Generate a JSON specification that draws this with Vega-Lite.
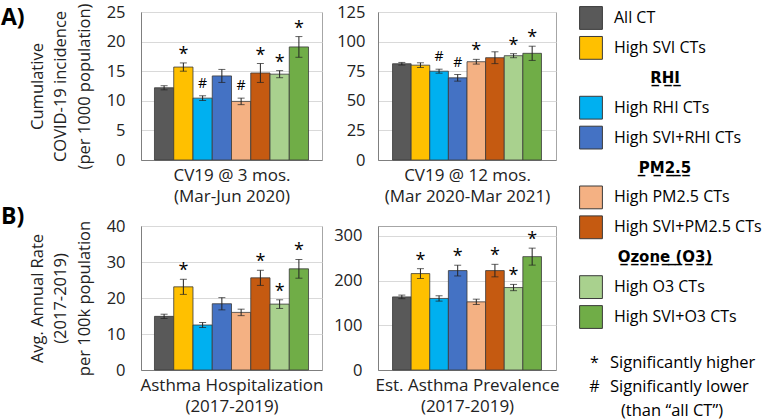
{
  "$schema": "https://vega.github.io/schema/vega-lite/v6.json",
  "padding": {"left": 0, "top": 2, "right": 0, "bottom": 0},
  "background": "white",
  "config": {
    "font": "Open Sans",
    "view": {"stroke": "#a6a6a6", "strokeWidth": 1},
    "axis": {"labelColor": "#222222", "titleColor": "#222222", "titleFontWeight": "normal", "labelFontSize": 16.5, "titleFontSize": 16.5, "gridColor": "#d9d9d9", "domainColor": "#7f7f7f", "ticks": false, "labelOverlap": false, "labelPadding": 16},
    "axisX": {"titleFontSize": 17, "titleLineHeight": 21, "titlePadding": 7.5},
    "axisY": {"titleLineHeight": 23.5, "titlePadding": 14},
    "text": {"color": "#000000"},
    "tick": {"color": "#222222", "thickness": 1, "size": 7, "orient": "horizontal"},
    "rule": {"color": "#222222", "strokeWidth": 1}
  },
  "datasets": {
    "bars": [
      {"panel": "A1", "series": "All CT", "value": 12.2, "lower": 11.85, "upper": 12.55, "sig": ""},
      {"panel": "A1", "series": "High SVI CTs", "value": 15.7, "lower": 15.0, "upper": 16.4, "sig": "*"},
      {"panel": "A1", "series": "High RHI CTs", "value": 10.45, "lower": 10.05, "upper": 10.85, "sig": "#"},
      {"panel": "A1", "series": "High SVI+RHI CTs", "value": 14.2, "lower": 13.1, "upper": 15.3, "sig": ""},
      {"panel": "A1", "series": "High PM2.5 CTs", "value": 9.9, "lower": 9.35, "upper": 10.45, "sig": "#"},
      {"panel": "A1", "series": "High SVI+PM2.5 CTs", "value": 14.7, "lower": 13.1, "upper": 16.3, "sig": "*"},
      {"panel": "A1", "series": "High O3 CTs", "value": 14.5, "lower": 13.9, "upper": 15.1, "sig": "*"},
      {"panel": "A1", "series": "High SVI+O3 CTs", "value": 19.1, "lower": 17.35, "upper": 20.85, "sig": "*"},
      {"panel": "A2", "series": "All CT", "value": 81.3, "lower": 80.2, "upper": 82.4, "sig": ""},
      {"panel": "A2", "series": "High SVI CTs", "value": 80.1, "lower": 78.1, "upper": 82.1, "sig": ""},
      {"panel": "A2", "series": "High RHI CTs", "value": 75.0, "lower": 73.3, "upper": 76.7, "sig": "#"},
      {"panel": "A2", "series": "High SVI+RHI CTs", "value": 69.4, "lower": 66.6, "upper": 72.2, "sig": "#"},
      {"panel": "A2", "series": "High PM2.5 CTs", "value": 83.0, "lower": 81.0, "upper": 85.0, "sig": "*"},
      {"panel": "A2", "series": "High SVI+PM2.5 CTs", "value": 86.4, "lower": 81.4, "upper": 91.4, "sig": ""},
      {"panel": "A2", "series": "High O3 CTs", "value": 88.1, "lower": 86.4, "upper": 89.8, "sig": "*"},
      {"panel": "A2", "series": "High SVI+O3 CTs", "value": 90.1, "lower": 84.1, "upper": 96.1, "sig": "*"},
      {"panel": "B1", "series": "All CT", "value": 14.9, "lower": 14.3, "upper": 15.5, "sig": ""},
      {"panel": "B1", "series": "High SVI CTs", "value": 23.1, "lower": 21.0, "upper": 25.2, "sig": "*"},
      {"panel": "B1", "series": "High RHI CTs", "value": 12.5, "lower": 11.8, "upper": 13.2, "sig": ""},
      {"panel": "B1", "series": "High SVI+RHI CTs", "value": 18.4, "lower": 16.7, "upper": 20.1, "sig": ""},
      {"panel": "B1", "series": "High PM2.5 CTs", "value": 16.0, "lower": 15.1, "upper": 16.9, "sig": ""},
      {"panel": "B1", "series": "High SVI+PM2.5 CTs", "value": 25.6, "lower": 23.5, "upper": 27.7, "sig": "*"},
      {"panel": "B1", "series": "High O3 CTs", "value": 18.3, "lower": 17.1, "upper": 19.5, "sig": "*"},
      {"panel": "B1", "series": "High SVI+O3 CTs", "value": 28.1, "lower": 25.5, "upper": 30.7, "sig": "*"},
      {"panel": "B2", "series": "All CT", "value": 163.5, "lower": 159.5, "upper": 167.5, "sig": ""},
      {"panel": "B2", "series": "High SVI CTs", "value": 215.6, "lower": 204.6, "upper": 226.6, "sig": "*"},
      {"panel": "B2", "series": "High RHI CTs", "value": 160.0, "lower": 154.0, "upper": 166.0, "sig": ""},
      {"panel": "B2", "series": "High SVI+RHI CTs", "value": 222.3, "lower": 210.3, "upper": 234.3, "sig": "*"},
      {"panel": "B2", "series": "High PM2.5 CTs", "value": 152.4, "lower": 146.4, "upper": 158.4, "sig": ""},
      {"panel": "B2", "series": "High SVI+PM2.5 CTs", "value": 222.3, "lower": 208.3, "upper": 236.3, "sig": "*"},
      {"panel": "B2", "series": "High O3 CTs", "value": 184.4, "lower": 177.4, "upper": 191.4, "sig": "*"},
      {"panel": "B2", "series": "High SVI+O3 CTs", "value": 253.5, "lower": 234.5, "upper": 272.5, "sig": "*"}
    ],
    "legend": [
      {"rank": 0, "kind": "item", "label": "All CT"},
      {"rank": 1, "kind": "item", "label": "High SVI CTs"},
      {"rank": 2, "kind": "header", "label": "RHI"},
      {"rank": 3, "kind": "item", "label": "High RHI CTs"},
      {"rank": 4, "kind": "item", "label": "High SVI+RHI CTs"},
      {"rank": 5, "kind": "header", "label": "PM2.5"},
      {"rank": 6, "kind": "item", "label": "High PM2.5 CTs"},
      {"rank": 7, "kind": "item", "label": "High SVI+PM2.5 CTs"},
      {"rank": 8, "kind": "header", "label": "Ozone (O3)"},
      {"rank": 9, "kind": "item", "label": "High O3 CTs"},
      {"rank": 10, "kind": "item", "label": "High SVI+O3 CTs"}
    ],
    "notes": [
      {"rank": 0, "symbol": "*", "label": "Significantly higher"},
      {"rank": 1, "symbol": "#", "label": "Significantly lower"},
      {"rank": 2, "symbol": "", "label": "(than “all CT”)"}
    ]
  },
  "hconcat": [
    {
      "concat": [
        {
          "data": {"name": "bars"},
          "transform": [{"filter": "datum.panel == 'A1'"}],
          "width": 181, "height": 148,
          "title": {"text": "A)", "anchor": "start", "frame": "group", "orient": "top", "fontSize": 23, "fontWeight": "bold", "color": "#000000", "dx": -140, "offset": -27},
          "encoding": {
            "x": {"field": "series", "type": "nominal", "sort": ["All CT", "High SVI CTs", "High RHI CTs", "High SVI+RHI CTs", "High PM2.5 CTs", "High SVI+PM2.5 CTs", "High O3 CTs", "High SVI+O3 CTs"], "scale": {"paddingInner": 0, "paddingOuter": 0.7}, "axis": {"labels": false, "title": ["CV19 @ 3 mos.", "(Mar-Jun 2020)"]}}
          },
          "layer": [
            {"mark": {"type": "bar", "stroke": "#3a3a3a", "strokeWidth": 0.8},
             "encoding": {
               "y": {"field": "value", "type": "quantitative", "scale": {"domain": [0, 25], "nice": false}, "axis": {"values": [0, 5, 10, 15, 20, 25], "title": ["Cumulative", "COVID-19 incidence", "(per 1000 population)"]}},
               "color": {"field": "series", "type": "nominal", "scale": {"domain": ["All CT", "High SVI CTs", "High RHI CTs", "High SVI+RHI CTs", "High PM2.5 CTs", "High SVI+PM2.5 CTs", "High O3 CTs", "High SVI+O3 CTs"], "range": ["#595959", "#FFC000", "#00B0F0", "#4472C4", "#F4B183", "#C55A11", "#A9D18E", "#70AD47"]}, "legend": null}
             }},
            {"mark": {"type": "rule"}, "encoding": {"y": {"field": "lower", "type": "quantitative", "axis": {"values": [0, 5, 10, 15, 20, 25], "title": ["Cumulative", "COVID-19 incidence", "(per 1000 population)"]}}, "y2": {"field": "upper"}}},
            {"mark": {"type": "tick"}, "encoding": {"y": {"field": "lower", "type": "quantitative", "axis": {"values": [0, 5, 10, 15, 20, 25], "title": ["Cumulative", "COVID-19 incidence", "(per 1000 population)"]}}}},
            {"mark": {"type": "tick"}, "encoding": {"y": {"field": "upper", "type": "quantitative", "axis": {"values": [0, 5, 10, 15, 20, 25], "title": ["Cumulative", "COVID-19 incidence", "(per 1000 population)"]}}}},
            {"transform": [{"filter": "datum.sig == '*'"}], "mark": {"type": "text", "fontSize": 18, "baseline": "alphabetic", "dy": -3},
             "encoding": {"y": {"field": "upper", "type": "quantitative", "axis": {"values": [0, 5, 10, 15, 20, 25], "title": ["Cumulative", "COVID-19 incidence", "(per 1000 population)"]}}, "text": {"field": "sig"}}},
            {"transform": [{"filter": "datum.sig == '#'"}], "mark": {"type": "text", "fontSize": 14, "baseline": "alphabetic", "dy": -8},
             "encoding": {"y": {"field": "upper", "type": "quantitative", "axis": {"values": [0, 5, 10, 15, 20, 25], "title": ["Cumulative", "COVID-19 incidence", "(per 1000 population)"]}}, "text": {"field": "sig"}}}
          ]
        },
        {
          "data": {"name": "bars"},
          "transform": [{"filter": "datum.panel == 'A2'"}],
          "width": 178, "height": 148,
          "encoding": {
            "x": {"field": "series", "type": "nominal", "sort": ["All CT", "High SVI CTs", "High RHI CTs", "High SVI+RHI CTs", "High PM2.5 CTs", "High SVI+PM2.5 CTs", "High O3 CTs", "High SVI+O3 CTs"], "scale": {"paddingInner": 0, "paddingOuter": 0.78}, "axis": {"labels": false, "title": ["CV19 @ 12 mos.", "(Mar 2020-Mar 2021)"]}}
          },
          "layer": [
            {"mark": {"type": "bar", "stroke": "#3a3a3a", "strokeWidth": 0.8},
             "encoding": {
               "y": {"field": "value", "type": "quantitative", "scale": {"domain": [0, 125], "nice": false}, "axis": {"values": [0, 25, 50, 75, 100, 125], "labelPadding": 13, "title": null}},
               "color": {"field": "series", "type": "nominal", "scale": {"domain": ["All CT", "High SVI CTs", "High RHI CTs", "High SVI+RHI CTs", "High PM2.5 CTs", "High SVI+PM2.5 CTs", "High O3 CTs", "High SVI+O3 CTs"], "range": ["#595959", "#FFC000", "#00B0F0", "#4472C4", "#F4B183", "#C55A11", "#A9D18E", "#70AD47"]}, "legend": null}
             }},
            {"mark": {"type": "rule"}, "encoding": {"y": {"field": "lower", "type": "quantitative", "axis": {"values": [0, 25, 50, 75, 100, 125], "labelPadding": 13, "title": null}}, "y2": {"field": "upper"}}},
            {"mark": {"type": "tick"}, "encoding": {"y": {"field": "lower", "type": "quantitative", "axis": {"values": [0, 25, 50, 75, 100, 125], "labelPadding": 13, "title": null}}}},
            {"mark": {"type": "tick"}, "encoding": {"y": {"field": "upper", "type": "quantitative", "axis": {"values": [0, 25, 50, 75, 100, 125], "labelPadding": 13, "title": null}}}},
            {"transform": [{"filter": "datum.sig == '*'"}], "mark": {"type": "text", "fontSize": 18, "baseline": "alphabetic", "dy": -3},
             "encoding": {"y": {"field": "upper", "type": "quantitative", "axis": {"values": [0, 25, 50, 75, 100, 125], "labelPadding": 13, "title": null}}, "text": {"field": "sig"}}},
            {"transform": [{"filter": "datum.sig == '#'"}], "mark": {"type": "text", "fontSize": 14, "baseline": "alphabetic", "dy": -8},
             "encoding": {"y": {"field": "upper", "type": "quantitative", "axis": {"values": [0, 25, 50, 75, 100, 125], "labelPadding": 13, "title": null}}, "text": {"field": "sig"}}}
          ]
        },
        {
          "data": {"name": "bars"},
          "transform": [{"filter": "datum.panel == 'B1'"}],
          "width": 181, "height": 144,
          "title": {"text": "B)", "anchor": "start", "frame": "group", "orient": "top", "fontSize": 23, "fontWeight": "bold", "color": "#000000", "dx": -140, "offset": -11},
          "encoding": {
            "x": {"field": "series", "type": "nominal", "sort": ["All CT", "High SVI CTs", "High RHI CTs", "High SVI+RHI CTs", "High PM2.5 CTs", "High SVI+PM2.5 CTs", "High O3 CTs", "High SVI+O3 CTs"], "scale": {"paddingInner": 0, "paddingOuter": 0.7}, "axis": {"labels": false, "title": ["Asthma Hospitalization", "(2017-2019)"]}}
          },
          "layer": [
            {"mark": {"type": "bar", "stroke": "#3a3a3a", "strokeWidth": 0.8},
             "encoding": {
               "y": {"field": "value", "type": "quantitative", "scale": {"domain": [0, 40], "nice": false}, "axis": {"values": [0, 10, 20, 30, 40], "title": ["Avg. Annual Rate", "(2017-2019)", "per 100k population"]}},
               "color": {"field": "series", "type": "nominal", "scale": {"domain": ["All CT", "High SVI CTs", "High RHI CTs", "High SVI+RHI CTs", "High PM2.5 CTs", "High SVI+PM2.5 CTs", "High O3 CTs", "High SVI+O3 CTs"], "range": ["#595959", "#FFC000", "#00B0F0", "#4472C4", "#F4B183", "#C55A11", "#A9D18E", "#70AD47"]}, "legend": null}
             }},
            {"mark": {"type": "rule"}, "encoding": {"y": {"field": "lower", "type": "quantitative", "axis": {"values": [0, 10, 20, 30, 40], "title": ["Avg. Annual Rate", "(2017-2019)", "per 100k population"]}}, "y2": {"field": "upper"}}},
            {"mark": {"type": "tick"}, "encoding": {"y": {"field": "lower", "type": "quantitative", "axis": {"values": [0, 10, 20, 30, 40], "title": ["Avg. Annual Rate", "(2017-2019)", "per 100k population"]}}}},
            {"mark": {"type": "tick"}, "encoding": {"y": {"field": "upper", "type": "quantitative", "axis": {"values": [0, 10, 20, 30, 40], "title": ["Avg. Annual Rate", "(2017-2019)", "per 100k population"]}}}},
            {"transform": [{"filter": "datum.sig == '*'"}], "mark": {"type": "text", "fontSize": 18, "baseline": "alphabetic", "dy": -3},
             "encoding": {"y": {"field": "upper", "type": "quantitative", "axis": {"values": [0, 10, 20, 30, 40], "title": ["Avg. Annual Rate", "(2017-2019)", "per 100k population"]}}, "text": {"field": "sig"}}},
            {"transform": [{"filter": "datum.sig == '#'"}], "mark": {"type": "text", "fontSize": 14, "baseline": "alphabetic", "dy": -8},
             "encoding": {"y": {"field": "upper", "type": "quantitative", "axis": {"values": [0, 10, 20, 30, 40], "title": ["Avg. Annual Rate", "(2017-2019)", "per 100k population"]}}, "text": {"field": "sig"}}}
          ]
        },
        {
          "data": {"name": "bars"},
          "transform": [{"filter": "datum.panel == 'B2'"}],
          "width": 178, "height": 144,
          "encoding": {
            "x": {"field": "series", "type": "nominal", "sort": ["All CT", "High SVI CTs", "High RHI CTs", "High SVI+RHI CTs", "High PM2.5 CTs", "High SVI+PM2.5 CTs", "High O3 CTs", "High SVI+O3 CTs"], "scale": {"paddingInner": 0, "paddingOuter": 0.78}, "axis": {"labels": false, "title": ["Est. Asthma Prevalence", "(2017-2019)"]}}
          },
          "layer": [
            {"mark": {"type": "bar", "stroke": "#3a3a3a", "strokeWidth": 0.8},
             "encoding": {
               "y": {"field": "value", "type": "quantitative", "scale": {"domain": [0, 322], "nice": false}, "axis": {"values": [0, 100, 200, 300], "title": null}},
               "color": {"field": "series", "type": "nominal", "scale": {"domain": ["All CT", "High SVI CTs", "High RHI CTs", "High SVI+RHI CTs", "High PM2.5 CTs", "High SVI+PM2.5 CTs", "High O3 CTs", "High SVI+O3 CTs"], "range": ["#595959", "#FFC000", "#00B0F0", "#4472C4", "#F4B183", "#C55A11", "#A9D18E", "#70AD47"]}, "legend": null}
             }},
            {"mark": {"type": "rule"}, "encoding": {"y": {"field": "lower", "type": "quantitative", "axis": {"values": [0, 100, 200, 300], "title": null}}, "y2": {"field": "upper"}}},
            {"mark": {"type": "tick"}, "encoding": {"y": {"field": "lower", "type": "quantitative", "axis": {"values": [0, 100, 200, 300], "title": null}}}},
            {"mark": {"type": "tick"}, "encoding": {"y": {"field": "upper", "type": "quantitative", "axis": {"values": [0, 100, 200, 300], "title": null}}}},
            {"transform": [{"filter": "datum.sig == '*'"}], "mark": {"type": "text", "fontSize": 18, "baseline": "alphabetic", "dy": -3},
             "encoding": {"y": {"field": "upper", "type": "quantitative", "axis": {"values": [0, 100, 200, 300], "title": null}}, "text": {"field": "sig"}}},
            {"transform": [{"filter": "datum.sig == '#'"}], "mark": {"type": "text", "fontSize": 14, "baseline": "alphabetic", "dy": -8},
             "encoding": {"y": {"field": "upper", "type": "quantitative", "axis": {"values": [0, 100, 200, 300], "title": null}}, "text": {"field": "sig"}}}
          ]
        }
      ],
      "columns": 2,
      "bounds": "flush",
      "spacing": {"column": 56, "row": 66}
    },
    {
      "vconcat": [
        {
          "data": {"name": "legend"},
          "width": 24, "height": 311,
          "view": {"stroke": null},
          "encoding": {"y": {"field": "rank", "type": "ordinal", "scale": {"type": "point", "padding": 0.2}, "axis": null}},
          "layer": [
            {"transform": [{"filter": "datum.kind == 'item'"}],
             "mark": {"type": "square", "size": 520, "filled": true, "opacity": 1, "stroke": "#3a3a3a", "strokeWidth": 1},
             "encoding": {"color": {"field": "label", "type": "nominal", "scale": {"domain": ["All CT", "High SVI CTs", "High RHI CTs", "High SVI+RHI CTs", "High PM2.5 CTs", "High SVI+PM2.5 CTs", "High O3 CTs", "High SVI+O3 CTs"], "range": ["#595959", "#FFC000", "#00B0F0", "#4472C4", "#F4B183", "#C55A11", "#A9D18E", "#70AD47"]}, "legend": null}}},
            {"transform": [{"filter": "datum.kind == 'item'"}],
             "mark": {"type": "text", "align": "left", "baseline": "middle", "dx": 23, "fontSize": 16},
             "encoding": {"text": {"field": "label"}}},
            {"transform": [{"filter": "datum.kind == 'header'"}, {"calculate": "join(split(datum.label, ''), '\u0332') + '\u0332'", "as": "shown"}],
             "mark": {"type": "text", "align": "center", "baseline": "middle", "dx": 74, "fontSize": 15, "fontWeight": "bold", "font": "DejaVu Sans"},
             "encoding": {"text": {"field": "shown"}}}
          ]
        },
        {
          "data": {"name": "notes"},
          "width": 24, "height": 72,
          "view": {"stroke": null},
          "encoding": {"y": {"field": "rank", "type": "ordinal", "scale": {"type": "point", "padding": 0.5}, "axis": null}},
          "layer": [
            {"mark": {"type": "text", "align": "center", "baseline": "middle", "dx": 3.5, "fontSize": 16},
             "encoding": {"text": {"field": "symbol"}}},
            {"transform": [{"filter": "datum.rank < 2"}],
             "mark": {"type": "text", "align": "left", "baseline": "middle", "dx": 19, "fontSize": 16.5},
             "encoding": {"text": {"field": "label"}}},
            {"transform": [{"filter": "datum.rank == 2"}],
             "mark": {"type": "text", "align": "left", "baseline": "middle", "dx": 30, "fontSize": 16.5},
             "encoding": {"text": {"field": "label"}}}
          ]
        }
      ],
      "bounds": "flush",
      "spacing": 28
    }
  ],
  "spacing": 17
}
